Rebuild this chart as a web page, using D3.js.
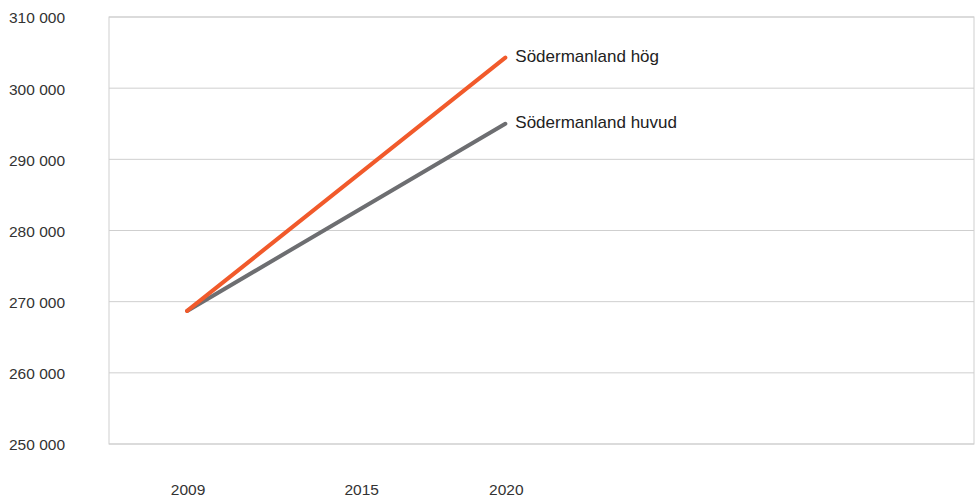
<!DOCTYPE html>
<html>
<head>
<meta charset="utf-8">
<script src="https://cdn.jsdelivr.net/npm/d3@7"></script>
<style>
  html, body { margin: 0; padding: 0; background: #fff; }
  svg { display: block; font-family: "Liberation Sans", Arial, Helvetica, sans-serif; }
</style>
</head>
<body>
<svg id="chart" width="975" height="497"></svg>
<script>
// Population forecast for Södermanland
const years = [2009, 2020];
const hogValues = [268700, 304300];
const huvudValues = [268700, 295000];
const seriesNames = ["Södermanland hög", "Södermanland huvud"];
const seriesColors = ["#f15a2b", "#6d6e71"];
const xTickYears = [2009, 2015, 2020];
const yTicks = [250000, 260000, 270000, 280000, 290000, 300000, 310000];

const svg = d3.select("#chart");
const plot = { left: 109, right: 974, top: 17, bottom: 444 };

const x = d3.scaleLinear().domain([2006.3, 2036.2]).range([plot.left, plot.right]);
const y = d3.scaleLinear().domain([250000, 310000]).range([plot.bottom, plot.top]);

const fmt = v => d3.format(",")(v).replace(/,/g, " ");

// horizontal gridlines
svg.append("g").selectAll("line").data(yTicks).join("line")
  .attr("x1", plot.left).attr("x2", plot.right)
  .attr("y1", d => y(d)).attr("y2", d => y(d))
  .attr("stroke", "#cfcfcf").attr("stroke-width", 1);

// plot frame
svg.append("rect")
  .attr("x", plot.left).attr("y", plot.top)
  .attr("width", plot.right - plot.left).attr("height", plot.bottom - plot.top)
  .attr("fill", "none").attr("stroke", "#cfcfcf").attr("stroke-width", 1);

// y-axis labels
svg.append("g").selectAll("text").data(yTicks).join("text")
  .attr("x", 9).attr("y", d => y(d) + 1)
  .attr("dy", "0.35em")
  .attr("font-size", 15.5).attr("fill", "#333")
  .text(fmt);

// x-axis labels
svg.append("g").selectAll("text").data(xTickYears).join("text")
  .attr("x", d => x(d) + 1).attr("y", 490)
  .attr("dy", "0.35em")
  .attr("text-anchor", "middle")
  .attr("font-size", 15.5).attr("fill", "#333")
  .text(d => d);

const series = [
  { name: seriesNames[1], values: huvudValues, color: seriesColors[1] },
  { name: seriesNames[0], values: hogValues, color: seriesColors[0] }
];

const line = d3.line().x((d, i) => x(years[i])).y(d => y(d));

svg.append("g").selectAll("path").data(series).join("path")
  .attr("d", d => line(d.values))
  .attr("fill", "none")
  .attr("stroke", d => d.color)
  .attr("stroke-width", 4)
  .attr("stroke-linecap", "round");

// end labels
svg.append("g").selectAll("text").data(series).join("text")
  .attr("x", x(years[years.length - 1]) + 10)
  .attr("y", d => y(d.values[d.values.length - 1]) - 2)
  .attr("dy", "0.35em")
  .attr("font-size", 17).attr("fill", "#222")
  .text(d => d.name);
</script>
</body>
</html>
